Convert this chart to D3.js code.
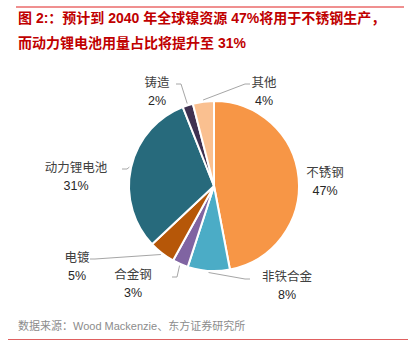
<!DOCTYPE html>
<html>
<head>
<meta charset="utf-8">
<script src="https://cdn.jsdelivr.net/npm/d3@7"></script>
<style>
  body { margin: 0; background: #fff; }
  svg text { font-family: "Liberation Sans", "Noto Sans CJK SC", sans-serif; }
</style>
</head>
<body>
<div id="chart"></div>
<script>
// data, clockwise from 12 o'clock
var names = ["不锈钢", "非铁合金", "合金钢", "电镀", "动力锂电池", "铸造", "其他"];
var shares = [47, 8, 3, 5, 31, 2, 4];
var colors = ["#F79646", "#4BACC6", "#8064A2", "#B65708", "#276A7C", "#3F3151", "#FAC090"];
// where each label sits (text anchor point) and where its leader starts
var labelPos = [[325, 173], [287, 277], [133, 275], [77, 258], [76, 168], [157, 83], [264, 83]];
var leaderFrom = [null, [250, 279], [172, 277], [90, 259], [122, 169], [176, 84], [250, 84]];

var width = 408, height = 359;
var cx = 214, cy = 186, r = 85;

var svg = d3.select("#chart")
  .append("svg")
    .attr("width", width)
    .attr("height", height);

// top red rule + title
svg.append("line")
  .attr("x1", 16).attr("x2", 404)
  .attr("y1", 7).attr("y2", 7)
  .attr("stroke", "#E02020")
  .attr("stroke-width", 1);

var titleLines = ["图 2:：预计到 2040 年全球镍资源 47%将用于不锈钢生产，",
                  "而动力锂电池用量占比将提升至 31%"];
svg.selectAll(".title")
  .data(titleLines)
  .enter()
  .append("text")
    .attr("class", "title")
    .attr("x", 18)
    .attr("y", function(d, i) { return 23 + i * 25; })
    .attr("fill", "#C00000")
    .style("font-size", "14px")
    .style("font-weight", "bold")
    .text(function(d) { return d; });

// pie
var data = names.map(function(n, i) { return {name: n, value: shares[i], i: i}; });
var pie = d3.pie().sort(null).value(function(d) { return d.value; });
var arc = d3.arc().innerRadius(0).outerRadius(r);
var outerArc = d3.arc().innerRadius(r * 1.02).outerRadius(r * 1.02);

var g = svg.append("g").attr("transform", "translate(" + cx + "," + cy + ")");
var arcs = pie(data);

g.selectAll("path.slice")
  .data(arcs)
  .enter()
  .append("path")
    .attr("class", "slice")
    .attr("d", arc)
    .attr("fill", function(d) { return colors[d.data.i]; })
    .attr("stroke", "#fff")
    .attr("stroke-width", 2)
    .attr("stroke-linejoin", "round");

// leader lines
svg.selectAll(".leader")
  .data(arcs.filter(function(d) { return leaderFrom[d.data.i]; }))
  .enter()
  .append("polyline")
    .attr("class", "leader")
    .attr("fill", "none")
    .attr("stroke", "#A6A6A6")
    .attr("stroke-width", 1)
    .attr("points", function(d) {
      var p = outerArc.centroid(d);
      var f = leaderFrom[d.data.i];
      var mid = [f[0] + (p[0] + cx > f[0] ? 5 : -5), f[1]];
      return [f, mid, [p[0] + cx, p[1] + cy]].map(function(q) { return q.join(","); }).join(" ");
    });

// labels: name + percent
var lab = svg.selectAll(".lab")
  .data(arcs)
  .enter()
  .append("g")
    .attr("class", "lab")
    .attr("transform", function(d) { var p = labelPos[d.data.i]; return "translate(" + p[0] + "," + p[1] + ")"; });

lab.append("text")
  .attr("text-anchor", "middle")
  .attr("dy", "0.35em")
  .attr("fill", "#404040")
  .style("font-size", "12.5px")
  .text(function(d) { return d.data.name; });

lab.append("text")
  .attr("text-anchor", "middle")
  .attr("y", 18)
  .attr("dy", "0.35em")
  .attr("fill", "#262626")
  .style("font-size", "12.5px")
  .text(function(d) { return d.data.value + "%"; });

// footer
svg.append("text")
  .attr("x", 18)
  .attr("y", 330)
  .attr("fill", "#8C8C8C")
  .style("font-size", "11px")
  .text("数据来源：Wood Mackenzie、东方证券研究所");

svg.append("line")
  .attr("x1", 8).attr("x2", 408)
  .attr("y1", 339.5).attr("y2", 339.5)
  .attr("stroke", "#E06060")
  .attr("stroke-width", 1);
</script>
</body>
</html>
